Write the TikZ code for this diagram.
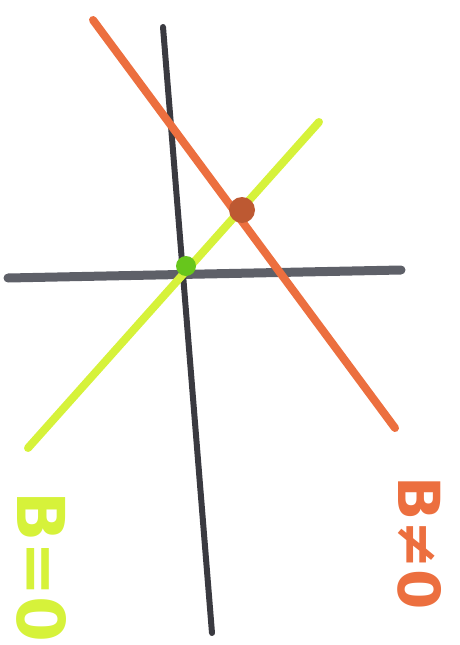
\documentclass[tikz,border=0pt]{standalone}
\usepackage{fontspec}
\usepackage{tikz}
\usetikzlibrary{positioning}
\newfontfamily\penfont{DejaVu Sans}
\definecolor{penorange}{HTML}{EC6F3F}
\definecolor{pengreen}{HTML}{D6F23A}
\definecolor{pengrey}{HTML}{5E6068}
\definecolor{penblack}{HTML}{3A3A40}
\tikzset{
  marker/.style={line width=8pt, line cap=round},
  dot/.style={circle, inner sep=0pt, minimum size=#1},
  label/.style={rotate=-90, inner sep=0pt, font=\fontsize{#1}{#1}\selectfont\penfont\bfseries},
}
\begin{document}
\begin{tikzpicture}[x=1pt, y=-1pt]
    \useasboundingbox (0,0) rectangle (459,645);

    %%%%%%%%%%%%%%%%%%
    %%%%% Axes %%%%%
    %%%%%%%%%%%%%%%%%%
    \coordinate (V1) at (163,27);
    \coordinate (V2) at (212,633);
    \coordinate (H1) at (8,278);
    \coordinate (H2) at (401,270);

    \draw[marker, pengrey, line width=9pt] (H1) -- (H2);
    \draw[marker, penblack, line width=6pt] (V1) -- (V2);

    %%%%%%%%%%%%%%%%%%
    %%%%% Lines %%%%%
    %%%%%%%%%%%%%%%%%%
    \coordinate (G1) at (28,448);
    \coordinate (G2) at (319,122);
    \coordinate (O1) at (93,20);
    \coordinate (O2) at (395,428);

    \draw[marker, pengreen] (G1) -- (G2);
    \draw[marker, penorange] (O1) -- (O2);

    % Intersection points
    \node[dot=20pt, fill=pengreen!60!green!80!black] (g) at (186,266) {};
    \node[dot=26pt, fill=penorange!80!black] (o) at (242,210) {};

    %%%%%%%%%%%%%%%%%%
    %%%%% Labels %%%%%
    %%%%%%%%%%%%%%%%%%
    \node[label=66, text=pengreen] (bzero) at (42,567) {B=0};
    \node[label=58, text=penorange] (bnonzero) at (420,543) {B≠0};

\end{tikzpicture}
\end{document}
